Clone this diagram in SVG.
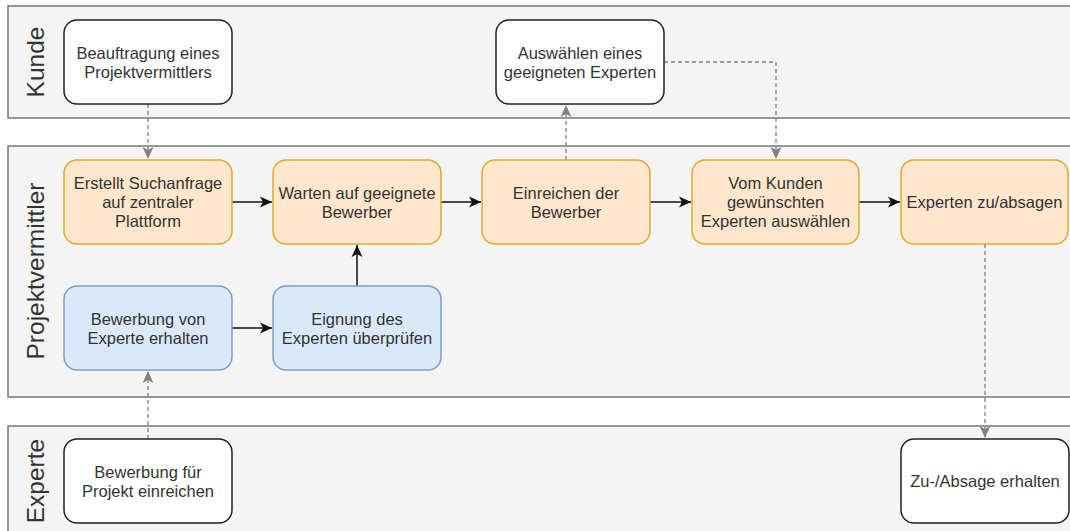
<svg xmlns="http://www.w3.org/2000/svg" width="1070" height="531" viewBox="0 0 1070 531">
<defs>
<style>
.lane{fill:#f4f4f4;stroke:#777;stroke-width:1.5}
.lt{font-family:"Liberation Sans",Arial,sans-serif;font-size:24.5px;fill:#333;text-anchor:middle}
.n{stroke-width:1.5}
.w{fill:#fff;stroke:#222}
.o{fill:#ffe6cc;stroke:#e0aa2a}
.b{fill:#dae8fc;stroke:#7d9fcc}
.t{font-family:"Liberation Sans",Arial,sans-serif;font-size:16.5px;fill:#333;text-anchor:middle}
.s{fill:none;stroke:#111;stroke-width:1.5}
.d{fill:none;stroke:#808080;stroke-width:1.3;stroke-dasharray:4 3}
</style>
<marker id="ab" viewBox="0 0 10 10" refX="10" refY="5" markerWidth="12" markerHeight="12" markerUnits="userSpaceOnUse" orient="auto">
<path d="M0,0.5 L10,5 L0,9.5 L2.5,5 Z" fill="#111"/>
</marker>
<marker id="ag" viewBox="0 0 10 10" refX="10" refY="5" markerWidth="12" markerHeight="12" markerUnits="userSpaceOnUse" orient="auto">
<path d="M0,0.5 L10,5 L0,9.5 L2.5,5 Z" fill="#808080"/>
</marker>
</defs>
<rect width="1070" height="531" fill="#fff"/>
<g id="lane-kunde">
<rect class="lane" x="8" y="6" width="1070" height="112"/>
<text class="lt" transform="translate(44,62) rotate(-90)">Kunde</text>
</g>
<g id="lane-projektvermittler">
<rect class="lane" x="8" y="146" width="1070" height="251"/>
<text class="lt" transform="translate(44,271) rotate(-90)">Projektvermittler</text>
</g>
<g id="lane-experte">
<rect class="lane" x="8" y="426" width="1070" height="120"/>
<text class="lt" transform="translate(44,481) rotate(-90)">Experte</text>
</g>
<g id="connectors">
<path class="d" d="M148,104 V159" marker-end="url(#ag)"/>
<path class="d" d="M566,160 V105" marker-end="url(#ag)"/>
<path class="d" d="M664,62 H776 V159" marker-end="url(#ag)"/>
<path class="d" d="M985,244 V438" marker-end="url(#ag)"/>
<path class="d" d="M148,439 V371" marker-end="url(#ag)"/>
<path class="s" d="M232,202 H272" marker-end="url(#ab)"/>
<path class="s" d="M441,202 H481" marker-end="url(#ab)"/>
<path class="s" d="M650,202 H691" marker-end="url(#ab)"/>
<path class="s" d="M859,202 H900" marker-end="url(#ab)"/>
<path class="s" d="M232,328 H272" marker-end="url(#ab)"/>
<path class="s" d="M357,286 V245" marker-end="url(#ab)"/>
</g>
<g id="n-beauftragung">
<rect class="n w" x="64" y="20" width="168" height="84" rx="13"/>
<text class="t" x="148" y="59">Beauftragung eines</text>
<text class="t" x="148" y="78">Projektvermittlers</text>
</g>
<g id="n-auswaehlen">
<rect class="n w" x="496" y="20" width="168" height="84" rx="13"/>
<text class="t" x="580" y="59">Auswählen eines</text>
<text class="t" x="580" y="78">geeigneten Experten</text>
</g>
<g id="n-erstellt">
<rect class="n o" x="64" y="160" width="168" height="84" rx="13"/>
<text class="t" x="148" y="189">Erstellt Suchanfrage</text>
<text class="t" x="148" y="208">auf zentraler</text>
<text class="t" x="148" y="227">Plattform</text>
</g>
<g id="n-warten">
<rect class="n o" x="273" y="160" width="168" height="84" rx="13"/>
<text class="t" x="357" y="199">Warten auf geeignete</text>
<text class="t" x="357" y="218">Bewerber</text>
</g>
<g id="n-einreichen">
<rect class="n o" x="482" y="160" width="168" height="84" rx="13"/>
<text class="t" x="566" y="199">Einreichen der</text>
<text class="t" x="566" y="218">Bewerber</text>
</g>
<g id="n-vomkunden">
<rect class="n o" x="692" y="160" width="167" height="84" rx="13"/>
<text class="t" x="775.5" y="189">Vom Kunden</text>
<text class="t" x="775.5" y="208">gewünschten</text>
<text class="t" x="775.5" y="227">Experten auswählen</text>
</g>
<g id="n-zuabsagen">
<rect class="n o" x="901" y="160" width="167" height="84" rx="13"/>
<text class="t" x="984.5" y="208">Experten zu/absagen</text>
</g>
<g id="n-bewerbungvon">
<rect class="n b" x="64" y="286" width="168" height="84" rx="13"/>
<text class="t" x="148" y="325">Bewerbung von</text>
<text class="t" x="148" y="344">Experte erhalten</text>
</g>
<g id="n-eignung">
<rect class="n b" x="273" y="286" width="168" height="84" rx="13"/>
<text class="t" x="357" y="325">Eignung des</text>
<text class="t" x="357" y="344">Experten überprüfen</text>
</g>
<g id="n-bewerbungfuer">
<rect class="n w" x="64" y="439" width="168" height="84" rx="13"/>
<text class="t" x="148" y="478">Bewerbung für</text>
<text class="t" x="148" y="497">Projekt einreichen</text>
</g>
<g id="n-zuabsageerhalten">
<rect class="n w" x="901" y="439" width="168" height="84" rx="13"/>
<text class="t" x="985" y="487">Zu-/Absage erhalten</text>
</g>
</svg>
